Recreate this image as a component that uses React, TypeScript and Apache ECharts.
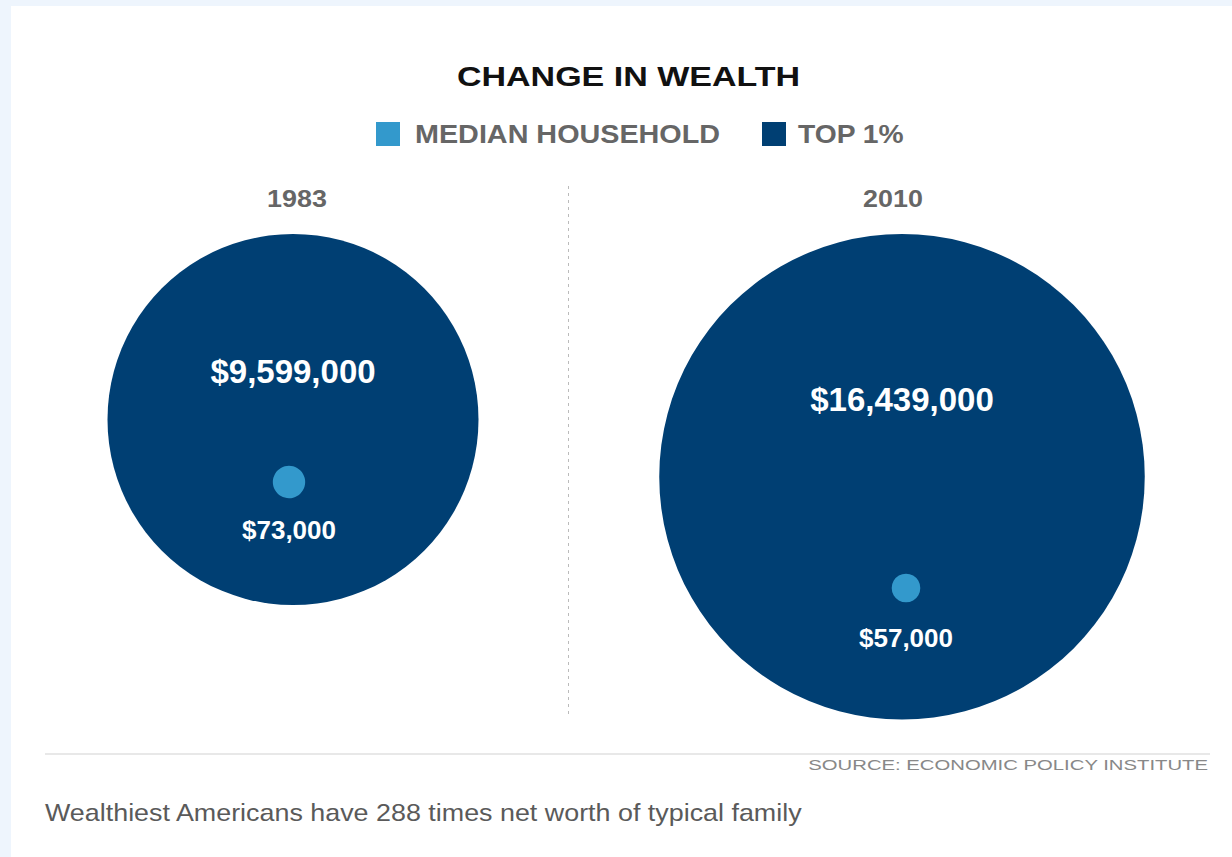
import React, { useEffect, useRef } from "react";
import * as echarts from "echarts";

// ---- data ----
const years = ["1983", "2010"];
const seriesNames = ["MEDIAN HOUSEHOLD", "TOP 1%"];
const top1Wealth = [9599000, 16439000];
const medianWealth = [73000, 57000];
const title = "CHANGE IN WEALTH";
const sourceText = "SOURCE: ECONOMIC POLICY INSTITUTE";
const caption = "Wealthiest Americans have 288 times net worth of typical family";

// ---- layout / style ----
const W = 1232;
const H = 857;
const LIGHT = "#3399cc";
const DARK = "#003f73";
const FONT = "'Liberation Sans', Arial, Helvetica, sans-serif";
const SCALE = 371 / Math.sqrt(9599000); // px of diameter per sqrt($)
const bigCenterX = [293, 902];
const bigTopY = 234;
const smallPos = [
  [289, 482],
  [906, 588],
];
const bigLabelOffset = [-48, -77];
const smallLabelOffset = [48, 50];
const yearLabelX = [297, 893];

const money = (v: number) => "$" + v.toLocaleString("en-US");

function txt(
  text: string,
  x: number,
  y: number,
  size: number,
  color: string,
  weight: string,
  scaleX = 1,
  align = "center"
) {
  return {
    type: "text",
    x,
    y,
    scaleX,
    z: 100,
    style: {
      text,
      fill: color,
      font: `${weight} ${size}px ${FONT}`,
      textAlign: align,
      textVerticalAlign: "middle",
    },
  };
}

export default function App() {
  const ref = useRef<HTMLDivElement>(null);
  useEffect(() => {
    if (!ref.current) return;
    const chart = echarts.init(ref.current, undefined, { renderer: "svg" });

    const bigData = top1Wealth.map((v, i) => {
      const d = Math.sqrt(v) * SCALE;
      return {
        name: years[i],
        value: [bigCenterX[i], bigTopY + d / 2, v],
        symbolSize: d,
        label: { offset: [0, bigLabelOffset[i]] },
      };
    });
    const smallData = medianWealth.map((v, i) => {
      const d = Math.sqrt(v) * SCALE;
      return {
        name: years[i],
        value: [smallPos[i][0], smallPos[i][1], v],
        symbolSize: d,
        label: { offset: [0, smallLabelOffset[i]] },
      };
    });

    const graphics: any[] = [
      {
        type: "rect",
        z: -10,
        shape: { x: 11, y: 6, width: W - 11, height: H - 6 },
        style: { fill: "#ffffff" },
        silent: true,
      },
      txt(title, 628.5, 77, 27, "#111111", "bold", 1.26),
      // legend
      { type: "rect", z: 100, shape: { x: 376, y: 122, width: 24, height: 24 }, style: { fill: LIGHT } },
      txt(seriesNames[0], 415, 135, 25, "#666666", "bold", 1.15, "left"),
      { type: "rect", z: 100, shape: { x: 762, y: 122, width: 24, height: 24 }, style: { fill: DARK } },
      txt(seriesNames[1], 798, 135, 25, "#666666", "bold", 1.13, "left"),
      // years
      txt(years[0], yearLabelX[0], 199, 24, "#666666", "bold", 1.12),
      txt(years[1], yearLabelX[1], 199, 24, "#666666", "bold", 1.12),
      // dotted divider
      {
        type: "line",
        z: 1,
        shape: { x1: 568.5, y1: 186, x2: 568.5, y2: 716 },
        style: { stroke: "#bbbbbb", lineWidth: 1, lineDash: [3, 4] },
      },
      // bottom rule
      {
        type: "line",
        z: 1,
        shape: { x1: 45, y1: 754, x2: 1210, y2: 754 },
        style: { stroke: "#e8e8e8", lineWidth: 2 },
      },
      txt(sourceText, 1208, 765, 14, "#888888", "normal", 1.45, "right"),
      txt(caption, 45, 813, 24, "#5a5a5a", "normal", 1.12, "left"),
    ];

    chart.setOption({
      animation: false,
      backgroundColor: "#eef5fd",
      grid: { left: 0, right: 0, top: 0, bottom: 0 },
      xAxis: { type: "value", min: 0, max: W, show: false },
      yAxis: { type: "value", min: 0, max: H, inverse: true, show: false },
      graphic: graphics,
      series: [
        {
          name: seriesNames[1],
          type: "scatter",
          z: 2,
          itemStyle: { color: DARK, opacity: 1 },
          data: bigData,
          label: {
            show: true,
            position: "inside",
            formatter: (p: any) => money(p.value[2]),
            color: "#ffffff",
            fontFamily: FONT,
            fontWeight: "bold",
            fontSize: 33,
          },
          emphasis: { disabled: true },
        },
        {
          name: seriesNames[0],
          type: "scatter",
          z: 3,
          itemStyle: { color: LIGHT, opacity: 1 },
          data: smallData,
          label: {
            show: true,
            position: "inside",
            formatter: (p: any) => money(p.value[2]),
            color: "#ffffff",
            fontFamily: FONT,
            fontWeight: "bold",
            fontSize: 26,
          },
          emphasis: { disabled: true },
        },
      ],
    });
    return () => chart.dispose();
  }, []);
  return (
    <div
      ref={ref}
      style={{ position: "fixed", left: 0, top: 0, width: W, height: H }}
    />
  );
}
